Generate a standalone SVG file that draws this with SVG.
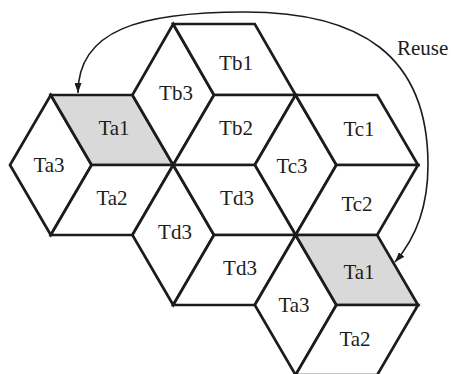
<svg xmlns="http://www.w3.org/2000/svg" width="451" height="374" viewBox="0 0 451 374">
  <style>
    .cell { fill: #ffffff; stroke: #1c1c1c; stroke-width: 2.7; stroke-linejoin: miter; }
    .cell.hl { fill: #d9d9d9; }
    .lbl { font-family: "Liberation Serif", "Times New Roman", serif; font-size: 21px; fill: #1c1c1c; text-anchor: middle; }
    .link { fill: none; stroke: #1c1c1c; stroke-width: 1.6; }
    .note { font-family: "Liberation Serif", "Times New Roman", serif; font-size: 21px; fill: #1c1c1c; }
  </style>
  <defs>
    <marker id="head" viewBox="0 0 10 7" refX="10" refY="3.5" markerWidth="10" markerHeight="7" markerUnits="userSpaceOnUse" orient="auto-start-reverse">
      <path d="M0,0 L10,3.5 L0,7 Z" fill="#1c1c1c"/>
    </marker>
  </defs>
  <rect width="451" height="374" fill="#ffffff"/>

  <!-- cluster A (left) -->
  <g id="a-ta3"><polygon class="cell" points="50.8,95 10,165 50.8,235 91.6,165"/><text class="lbl" x="49" y="172">Ta3</text></g>
  <g id="a-ta1"><polygon class="cell hl" points="50.8,95 132.4,95 173.2,165 91.6,165"/><text class="lbl" x="114" y="135">Ta1</text></g>
  <g id="a-ta2"><polygon class="cell" points="91.6,165 173.2,165 132.4,235 50.8,235"/><text class="lbl" x="112" y="205">Ta2</text></g>

  <!-- cluster B (top) -->
  <g id="b-tb3"><polygon class="cell" points="173.2,24 132.4,95 173.2,165 214,95"/><text class="lbl" x="176" y="100">Tb3</text></g>
  <g id="b-tb1"><polygon class="cell" points="173.2,24 254.8,24 295.6,95 214,95"/><text class="lbl" x="236" y="70">Tb1</text></g>
  <g id="b-tb2"><polygon class="cell" points="214,95 295.6,95 254.8,165 173.2,165"/><text class="lbl" x="236" y="135">Tb2</text></g>

  <!-- cluster C (right) -->
  <g id="c-tc3"><polygon class="cell" points="295.6,95 254.8,165 295.6,235 336.4,165"/><text class="lbl" x="292" y="173">Tc3</text></g>
  <g id="c-tc1"><polygon class="cell" points="295.6,95 377.2,95 418,165 336.4,165"/><text class="lbl" x="359" y="136">Tc1</text></g>
  <g id="c-tc2"><polygon class="cell" points="336.4,165 418,165 377.2,235 295.6,235"/><text class="lbl" x="357" y="211">Tc2</text></g>

  <!-- cluster D (middle) -->
  <g id="d-td3-left"><polygon class="cell" points="173.2,165 132.4,235 173.2,305 214,235"/><text class="lbl" x="175" y="239">Td3</text></g>
  <g id="d-td3-upper"><polygon class="cell" points="173.2,165 254.8,165 295.6,235 214,235"/><text class="lbl" x="237" y="205">Td3</text></g>
  <g id="d-td3-lower"><polygon class="cell" points="214,235 295.6,235 254.8,305 173.2,305"/><text class="lbl" x="240" y="275">Td3</text></g>

  <!-- cluster A repeated (bottom right) -->
  <g id="a2-ta3"><polygon class="cell" points="295.6,235 254.8,305 295.6,375 336.4,305"/><text class="lbl" x="294" y="312">Ta3</text></g>
  <g id="a2-ta1"><polygon class="cell hl" points="295.6,235 377.2,235 418,305 336.4,305"/><text class="lbl" x="359" y="279">Ta1</text></g>
  <g id="a2-ta2"><polygon class="cell" points="336.4,305 418,305 377.2,375 295.6,375"/><text class="lbl" x="355" y="346">Ta2</text></g>

  <!-- reuse connector -->
  <g id="connectors">
    <path class="link" d="M78,93 C78,30 140,12 245,12 C360,12 428,55 428,165 C428,205 416,238 395,262" marker-start="url(#head)" marker-end="url(#head)"/>
    <text class="note" x="397" y="55">Reuse</text>
  </g>
</svg>
